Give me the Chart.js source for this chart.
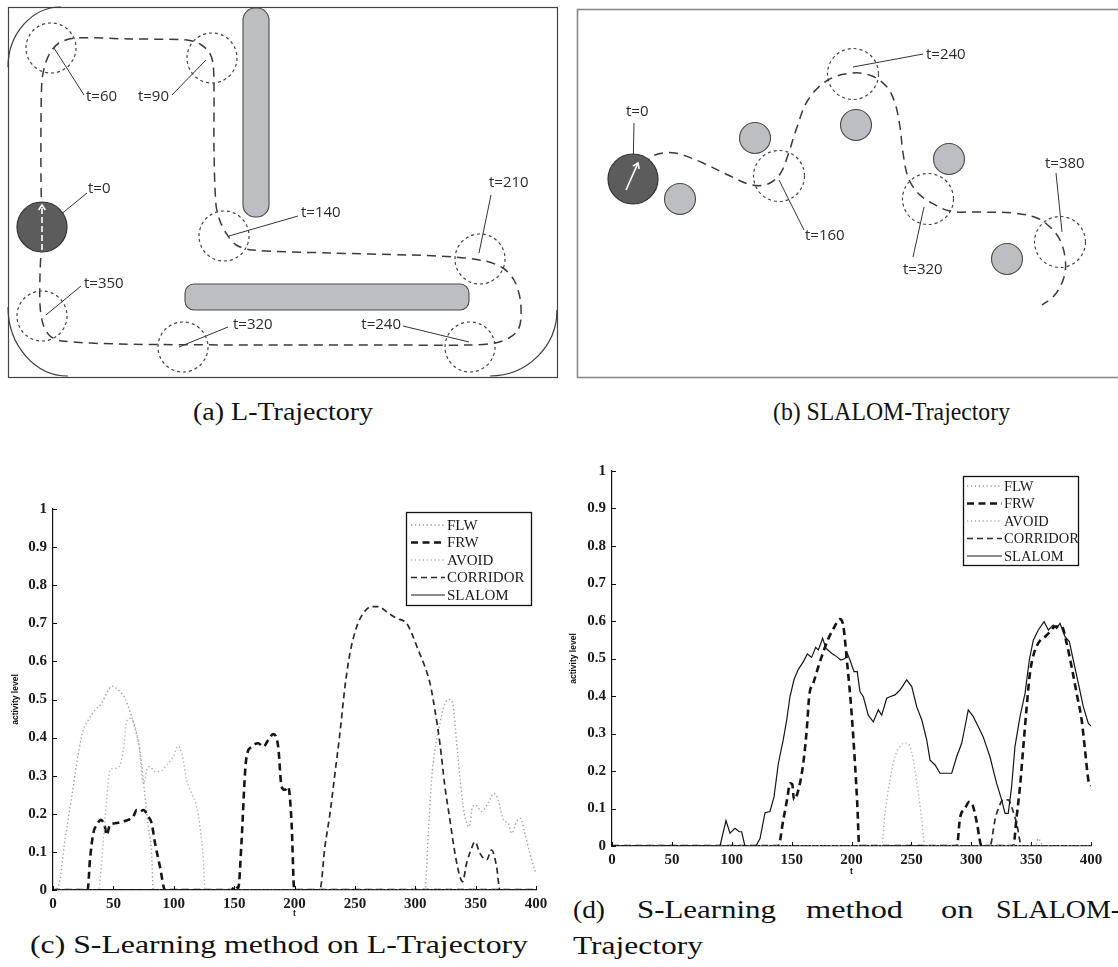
<!DOCTYPE html>
<html>
<head>
<meta charset="utf-8">
<script src="https://cdn.jsdelivr.net/npm/chart.js@4.4.1/dist/chart.umd.min.js"></script>
<style>
  html, body { margin: 0; padding: 0; background: #fff; }
  body { width: 1118px; height: 967px; position: relative; overflow: hidden; }
  canvas { position: absolute; }
  .cap { position: absolute; white-space: nowrap; font-family: "Liberation Serif", "Times New Roman", serif;
         font-size: 25px; line-height: 25px; color: #111; transform-origin: 0 0; }
</style>
</head>
<body>
<canvas id="panelA" width="560" height="390" style="left:0;top:0"></canvas>
<canvas id="panelB" width="558" height="390" style="left:560px;top:0"></canvas>
<canvas id="panelC" width="560" height="440" style="left:0;top:490px"></canvas>
<canvas id="panelD" width="558" height="436" style="left:560px;top:450px"></canvas>

<span class="cap" data-w="180" style="left:193px;top:399px">(a) L-Trajectory</span>
<span class="cap" data-w="237" style="left:773px;top:399px">(b) SLALOM-Trajectory</span>
<span class="cap" data-w="498" style="left:30px;top:932px">(c) S-Learning method on L-Trajectory</span>
<span class="cap" data-w="32" style="left:573px;top:897px">(d)</span>
<span class="cap" data-w="139" style="left:637px;top:897px">S-Learning</span>
<span class="cap" data-w="97" style="left:806px;top:897px">method</span>
<span class="cap" data-w="0" style="left:941px;top:897px">on</span>
<span class="cap" data-w="124" style="left:996px;top:897px">SLALOM-</span>
<span class="cap" data-w="130" style="left:573px;top:933px">Trajectory</span>

<script>
// ---------- Panel (a): L-shaped arena (arena pixel units) ----------
const lFrame = [8, 7, 557, 377];
const lCornerCX = [61, 68, 490];
const lCornerCY = [67, 307, 310];
const lCornerRX = [53, 60, 67];
const lCornerRY = [60, 69, 66];
const lCornerFrom = [180, 90, 0];
const lCornerTo = [270, 180, 90];
const lWallX0 = [243, 185];
const lWallY0 = [8, 284];
const lWallX1 = [269, 469];
const lWallY1 = [217, 310];
const lWallRadius = [12, 9];
const lRobotX = [42];
const lRobotY = [227];
const lArrow = [42, 250, 42, 205];
const lPathX = [42, 41, 41, 42, 45, 50, 59, 75, 130, 187, 200, 209, 213, 214, 214, 216, 220, 226, 236, 252, 330, 410, 455, 485, 503, 514, 520, 521, 518, 509, 495, 470, 380, 250, 120, 62, 50, 43, 40, 40, 41];
const lPathY = [227, 180, 120, 80, 65, 53, 43, 38, 39, 40, 44, 52, 63, 90, 150, 205, 221, 233, 245, 250, 253, 255, 257, 261, 268, 280, 298, 318, 330, 338, 343, 345, 345, 345, 344, 341, 336, 324, 305, 275, 252];
const lMarkX = [51, 212, 224, 480, 42, 183, 470];
const lMarkY = [48, 58, 236, 259, 316, 347, 347];
const lLabels = ['t=0', 't=60', 't=90', 't=140', 't=210', 't=350', 't=320', 't=240'];
const lLeadX0 = [54, 54, 206, 229, 479, 46, 179, 469];
const lLeadY0 = [220, 48, 60, 236, 253, 315, 347, 342];
const lLeadX1 = [87, 84, 172, 298, 491, 81, 228, 403];
const lLeadY1 = [193, 95, 95, 216, 195, 286, 327, 326];
const lLabelX = [88, 86, 169, 301, 489, 84, 233, 401];
const lLabelY = [189, 97, 97, 213, 183, 284, 325, 325];
const lLabelAlign = ['left', 'left', 'right', 'left', 'left', 'left', 'left', 'right'];

// ---------- Panel (b): slalom arena ----------
const sFrame = [577, 9, 1135, 377];
const sRobotX = [633];
const sRobotY = [179];
const sArrow = [626, 190, 638, 163];
const sPostX = [680, 755, 856, 949, 1007];
const sPostY = [199, 138, 125, 159, 259];
const sPathX = [643, 655, 675, 703, 728, 752, 768, 780, 788, 796, 808, 828, 853, 872, 887, 895, 900, 903, 908, 917, 930, 950, 980, 1013, 1037, 1050, 1060, 1065, 1065, 1060, 1053, 1042];
const sPathY = [165, 155, 153, 163, 175, 185, 184, 174, 155, 130, 100, 80, 73, 76, 87, 103, 127, 153, 177, 192, 202, 211, 212, 213, 218, 227, 240, 257, 273, 287, 297, 305];
const sMarkX = [779, 853, 928, 1060];
const sMarkY = [176, 74, 199, 242];
const sLabels = ['t=0', 't=160', 't=240', 't=320', 't=380'];
const sLeadX0 = [633, 779, 853, 924, 1062];
const sLeadY0 = [173, 180, 67, 207, 232];
const sLeadX1 = [634, 804, 923, 913, 1056];
const sLeadY1 = [123, 230, 54, 257, 173];
const sLabelX = [626, 805, 926, 903, 1045];
const sLabelY = [112, 236, 55, 270, 164];

// ---------- Panel (c): activity levels, L-trajectory ----------
const tickX = [0, 50, 100, 150, 200, 250, 300, 350, 400];
const seriesNames = ['FLW', 'FRW', 'AVOID', 'CORRIDOR', 'SLALOM'];

const cFlwT = [0, 4.4, 9.9, 15.5, 21, 25.1, 29.2, 34.8, 40.3, 44.4, 48.6, 52.7, 59.6, 63.8, 67.9, 72, 74.8, 76.2, 78.9, 81.7, 83, 308, 310.8, 313.5, 316.3, 320.4, 324.6, 328.2, 331.5, 334.3, 338.4, 341.1, 344.7, 347.5, 350.2, 355, 360.4, 365.1, 368.7, 372.9, 377, 379.8, 383.9, 387.2, 390.8, 394.9, 399, 400];
const cFlwV = [0, 0.009, 0.131, 0.245, 0.359, 0.42, 0.446, 0.472, 0.49, 0.516, 0.535, 0.529, 0.503, 0.468, 0.424, 0.367, 0.289, 0.245, 0.166, 0.096, 0, 0, 0.149, 0.289, 0.367, 0.437, 0.49, 0.5, 0.481, 0.385, 0.254, 0.192, 0.166, 0.219, 0.223, 0.206, 0.228, 0.254, 0.236, 0.184, 0.175, 0.149, 0.179, 0.188, 0.149, 0.096, 0.052, 0.045];
const cFrwT = [0, 28.7, 30.6, 33.4, 36.2, 39.7, 43, 44.4, 47.2, 51.3, 58.2, 62.3, 66.5, 69.3, 72, 74.8, 78.9, 81.7, 84.5, 88.6, 92.8, 147.9, 150.6, 153.4, 156.2, 159, 160.3, 164.5, 170, 174.1, 178.3, 182.4, 186.5, 189.3, 192.1, 194.8, 197.6, 199.8, 400];
const cFrwV = [0, 0, 0.079, 0.149, 0.171, 0.184, 0.166, 0.144, 0.171, 0.175, 0.18, 0.184, 0.193, 0.21, 0.206, 0.21, 0.193, 0.175, 0.123, 0.061, 0, 0, 0.012, 0.005, 0.131, 0.306, 0.35, 0.376, 0.385, 0.376, 0.394, 0.409, 0.376, 0.271, 0.263, 0.271, 0.175, 0, 0];
const cAvoidT = [0, 37.5, 41.7, 44.4, 47.2, 51.3, 55.5, 58.2, 61, 63.8, 66.5, 69.3, 72, 73.9, 75.4, 77.6, 80.3, 84.5, 88.6, 94.1, 99.6, 103.8, 106.6, 110.7, 114.8, 119, 121.7, 124.5, 126, 400];
const cAvoidV = [0, 0, 0.131, 0.236, 0.315, 0.319, 0.328, 0.367, 0.442, 0.45, 0.442, 0.411, 0.359, 0.289, 0.28, 0.315, 0.324, 0.311, 0.311, 0.328, 0.35, 0.378, 0.359, 0.289, 0.254, 0.219, 0.166, 0.079, 0, 0];
const cCorridorT = [0, 221, 225.2, 229.4, 233.5, 237.6, 241.8, 245.9, 251.5, 256.9, 263.9, 269.4, 276.3, 284.6, 292.9, 297, 302.5, 308, 312.2, 316.3, 320.4, 324.6, 328.7, 332.9, 337, 339.2, 342.5, 346.6, 349.4, 353.6, 359.1, 363.2, 367.4, 370.1, 400];
const cCorridorV = [0, 0, 0.114, 0.201, 0.306, 0.411, 0.534, 0.621, 0.691, 0.726, 0.744, 0.744, 0.73, 0.713, 0.7, 0.674, 0.63, 0.586, 0.543, 0.472, 0.385, 0.271, 0.184, 0.096, 0.035, 0.022, 0.07, 0.109, 0.127, 0.096, 0.079, 0.105, 0.061, 0, 0];
const cSlalomT = [0, 400];
const cSlalomV = [0, 0];

// ---------- Panel (d): activity levels, slalom trajectory ----------
const dFlwT = [0, 353.3, 356, 360.1, 400];
const dFlwV = [0, 0, 0.02, 0, 0];
const dFrwT = [0, 138.9, 143, 146.4, 148.6, 150.5, 152, 155.6, 159.7, 162.6, 164.8, 168.1, 172.3, 175.1, 180.3, 185, 190.4, 193, 196, 200.1, 202.9, 204.8, 206.5, 288, 290.6, 294.8, 298.4, 301.2, 304.5, 308.7, 335.1, 337.9, 340.7, 343.5, 346.3, 349, 352.4, 356.8, 361.6, 365.7, 369.9, 375.5, 379.7, 383.8, 388, 392.2, 395, 397.8, 400];
const dFrwV = [0, 0, 0.069, 0.127, 0.167, 0.165, 0.123, 0.149, 0.22, 0.309, 0.403, 0.434, 0.478, 0.505, 0.55, 0.58, 0.605, 0.59, 0.5, 0.354, 0.22, 0.114, 0, 0, 0.074, 0.1, 0.118, 0.109, 0.065, 0, 0, 0.078, 0.158, 0.265, 0.371, 0.46, 0.514, 0.545, 0.558, 0.571, 0.585, 0.585, 0.54, 0.478, 0.407, 0.336, 0.256, 0.176, 0.16];
const dAvoidT = [0, 225.2, 228, 232.1, 236.3, 240.5, 244.7, 248.9, 251.6, 255.8, 258.7, 261.4, 400];
const dAvoidV = [0, 0, 0.087, 0.176, 0.238, 0.265, 0.275, 0.265, 0.229, 0.141, 0.069, 0, 0];
const dCorridorT = [0, 315.6, 319.8, 322.6, 326.8, 330.9, 334.6, 337.9, 342.1, 400];
const dCorridorV = [0, 0, 0.069, 0.1, 0.123, 0.123, 0.096, 0.06, 0, 0];
const dSlalomT = [0, 90.2, 95.2, 98.5, 102.7, 106.3, 108.3, 111, 120.2, 123.6, 127.8, 131.9, 135.3, 138.9, 143, 145.9, 148.6, 152, 155.6, 159.7, 163.1, 166.7, 170.1, 172.3, 175.9, 178.7, 183.4, 187.6, 191, 194.6, 196.5, 198.7, 202.1, 204.8, 207.1, 209.9, 214, 218.2, 222.4, 225.2, 229.4, 232.1, 236.3, 240.5, 246.1, 250.3, 254.5, 258.7, 262.8, 265.6, 269.8, 273.9, 279.5, 283.7, 287.8, 292, 294.8, 297.5, 301.7, 305.9, 310, 315.6, 321.2, 325.4, 328.2, 330.9, 333.7, 336.5, 340.7, 344.9, 348.5, 351.8, 356, 360.8, 364.4, 368.5, 371.3, 374.1, 378.3, 381.9, 385.2, 389.4, 393.6, 397.8, 400];
const dSlalomV = [0, 0, 0.068, 0.034, 0.047, 0.038, 0.038, 0, 0, 0.02, 0.089, 0.092, 0.131, 0.22, 0.283, 0.336, 0.398, 0.444, 0.471, 0.491, 0.512, 0.503, 0.53, 0.523, 0.554, 0.527, 0.514, 0.505, 0.496, 0.5, 0.514, 0.496, 0.465, 0.465, 0.411, 0.398, 0.349, 0.331, 0.363, 0.349, 0.394, 0.398, 0.403, 0.416, 0.443, 0.425, 0.371, 0.336, 0.283, 0.229, 0.216, 0.194, 0.194, 0.194, 0.238, 0.274, 0.318, 0.363, 0.345, 0.318, 0.291, 0.238, 0.167, 0.123, 0.087, 0.087, 0.158, 0.265, 0.345, 0.407, 0.496, 0.549, 0.576, 0.598, 0.576, 0.589, 0.58, 0.594, 0.558, 0.545, 0.496, 0.434, 0.371, 0.327, 0.32];

// ---------- shared helpers ----------
const SERIF = '"Liberation Serif", "Times New Roman", serif';
const SANS = '"Open Sans", "Noto Sans", sans-serif';
const zip = (xs, ys) => xs.map((x, i) => ({ x: x, y: ys[i] }));

function arrowHead(ctx, x0, y0, x1, y1, len) {
  const a = Math.atan2(y1 - y0, x1 - x0);
  ctx.beginPath();
  ctx.moveTo(x1 - len * Math.cos(a - 0.6), y1 - len * Math.sin(a - 0.6));
  ctx.lineTo(x1, y1);
  ctx.lineTo(x1 - len * Math.cos(a + 0.6), y1 - len * Math.sin(a + 0.6));
  ctx.stroke();
}

// Decorations for the arena panels: walls, bar obstacles, robot heading arrow and time labels.
function arenaPlugin(spec) {
  return {
    id: 'arena',
    beforeDatasetsDraw(chart) {
      const { ctx, scales: { x, y } } = chart;
      const X = v => x.getPixelForValue(v), Y = v => y.getPixelForValue(v);
      ctx.save();
      const f = spec.frame;
      ctx.strokeStyle = spec.frameColor;
      ctx.lineWidth = spec.frameWidth;
      ctx.strokeRect(X(f[0]) + 0.5, Y(f[1]) + 0.5, X(f[2]) - X(f[0]), Y(f[3]) - Y(f[1]));
      ctx.strokeStyle = '#3a3a3a';
      ctx.lineWidth = 1.2;
      (spec.cornerCX || []).forEach((cx, i) => {
        const px = X(cx), py = Y(spec.cornerCY[i]);
        const rx = Math.abs(X(cx + spec.cornerRX[i]) - px);
        const ry = Math.abs(Y(spec.cornerCY[i] + spec.cornerRY[i]) - py);
        ctx.beginPath();
        ctx.ellipse(px, py, rx, ry, 0, spec.cornerFrom[i] * Math.PI / 180, spec.cornerTo[i] * Math.PI / 180);
        ctx.stroke();
      });
      (spec.wallX0 || []).forEach((x0, i) => {
        const l = X(x0), t = Y(spec.wallY0[i]), r = X(spec.wallX1[i]), b = Y(spec.wallY1[i]);
        ctx.beginPath();
        ctx.roundRect(l, t, r - l, b - t, spec.wallRadius[i]);
        ctx.fillStyle = '#bdbec1';
        ctx.fill();
        ctx.strokeStyle = '#4a4a4a';
        ctx.lineWidth = 1.1;
        ctx.stroke();
      });
      ctx.restore();
    },
    beforeDatasetDraw(chart, args) {
      const ds = chart.data.datasets[args.index];
      if (ds.pointDash) { chart.ctx.save(); chart.ctx.setLineDash(ds.pointDash); }
    },
    afterDatasetDraw(chart, args) {
      const ds = chart.data.datasets[args.index];
      if (ds.pointDash) chart.ctx.restore();
    },
    afterDatasetsDraw(chart) {
      const { ctx, scales: { x, y } } = chart;
      const X = v => x.getPixelForValue(v), Y = v => y.getPixelForValue(v);
      ctx.save();
      // heading arrow on the robot
      const a = spec.arrow;
      ctx.strokeStyle = '#ffffff';
      ctx.lineWidth = 1.6;
      ctx.setLineDash(spec.arrowDash);
      ctx.beginPath();
      ctx.moveTo(X(a[0]), Y(a[1]));
      ctx.lineTo(X(a[2]), Y(a[3]));
      ctx.stroke();
      ctx.setLineDash([]);
      arrowHead(ctx, X(a[0]), Y(a[1]), X(a[2]), Y(a[3]), 6);
      // time labels
      ctx.fillStyle = '#2b2b2b';
      ctx.font = '15px ' + SANS;
      ctx.textBaseline = 'middle';
      spec.labels.forEach((txt, i) => {
        ctx.textAlign = spec.labelAlign ? spec.labelAlign[i] : 'left';
        ctx.fillText(txt, X(spec.labelX[i]), Y(spec.labelY[i]));
      });
      ctx.restore();
    }
  };
}

function leaderSets(x0, y0, x1, y1) {
  return x0.map((v, i) => ({
    type: 'scatter', showLine: true,
    data: [{ x: v, y: y0[i] }, { x: x1[i], y: y1[i] }],
    borderColor: '#333', borderWidth: 1, pointRadius: 0
  }));
}

function arenaChart(id, xMin, xMax, spec, datasets) {
  return new Chart(document.getElementById(id), {
    type: 'scatter',
    data: { datasets: datasets },
    options: {
      responsive: false, animation: false, devicePixelRatio: 1,
      layout: { padding: 0, autoPadding: false },
      plugins: { legend: { display: false }, tooltip: { enabled: false } },
      scales: {
        x: { type: 'linear', min: xMin, max: xMax, display: false },
        y: { type: 'linear', min: 0, max: 390, reverse: true, display: false }
      }
    },
    plugins: [arenaPlugin(spec)]
  });
}

// Panel (a)
arenaChart('panelA', 0, 560, {
  frame: lFrame, frameColor: '#444', frameWidth: 1.2,
  cornerCX: lCornerCX, cornerCY: lCornerCY, cornerRX: lCornerRX, cornerRY: lCornerRY,
  cornerFrom: lCornerFrom, cornerTo: lCornerTo,
  wallX0: lWallX0, wallY0: lWallY0, wallX1: lWallX1, wallY1: lWallY1, wallRadius: lWallRadius,
  arrow: lArrow, arrowDash: [6, 3],
  labels: lLabels, labelX: lLabelX, labelY: lLabelY, labelAlign: lLabelAlign
}, [
  { data: zip(lRobotX, lRobotY), pointRadius: 25, pointBackgroundColor: '#5c5c5c', pointBorderColor: '#333', pointBorderWidth: 1.2 },
  { data: zip(lMarkX, lMarkY), pointRadius: 25, pointBackgroundColor: 'rgba(0,0,0,0)', pointBorderColor: '#444', pointBorderWidth: 1.2, pointDash: [3, 3] },
  ...leaderSets(lLeadX0, lLeadY0, lLeadX1, lLeadY1),
  { data: zip(lPathX, lPathY), showLine: true, tension: 0.3, borderColor: '#3a3a3a', borderWidth: 1.5, borderDash: [9, 6], pointRadius: 0 }
]);

// Panel (b)
arenaChart('panelB', 560, 1118, {
  frame: sFrame, frameColor: '#8a8a8a', frameWidth: 1.6,
  arrow: sArrow, arrowDash: [],
  labels: sLabels, labelX: sLabelX, labelY: sLabelY
}, [
  { data: zip(sRobotX, sRobotY), pointRadius: 25, pointBackgroundColor: '#5c5c5c', pointBorderColor: '#333', pointBorderWidth: 1.2 },
  { data: zip(sPostX, sPostY), pointRadius: 15.5, pointBackgroundColor: '#bdbec1', pointBorderColor: '#4a4a4a', pointBorderWidth: 1.1 },
  { data: zip(sMarkX, sMarkY), pointRadius: 25.5, pointBackgroundColor: 'rgba(0,0,0,0)', pointBorderColor: '#444', pointBorderWidth: 1.2, pointDash: [3, 3] },
  ...leaderSets(sLeadX0, sLeadY0, sLeadX1, sLeadY1),
  { data: zip(sPathX, sPathY), showLine: true, tension: 0.35, borderColor: '#3a3a3a', borderWidth: 1.5, borderDash: [9, 6], pointRadius: 0 }
]);

// ---------- activity-level charts ----------
const lineStyles = {
  FLW:      { borderColor: '#9c9c9c', borderWidth: 1.4, borderDash: [1.3, 2.6], cubicInterpolationMode: 'monotone' },
  FRW:      { borderColor: '#151515', borderWidth: 2.6, borderDash: [7, 4.5], cubicInterpolationMode: 'monotone' },
  AVOID:    { borderColor: '#b0b0b0', borderWidth: 1.4, borderDash: [1.3, 2.6], cubicInterpolationMode: 'monotone' },
  CORRIDOR: { borderColor: '#2a2a2a', borderWidth: 1.7, borderDash: [6, 4], cubicInterpolationMode: 'monotone' },
  SLALOM:   { borderColor: '#151515', borderWidth: 1.2, borderDash: [], tension: 0 }
};

function axisPlugin(lg) {
  return {
    id: 'axisDecor',
    afterDraw(chart) {
      const { ctx, chartArea: a, scales: { x, y } } = chart;
      ctx.save();
      ctx.strokeStyle = '#111';
      ctx.lineWidth = 1;
      ctx.beginPath();
      y.ticks.forEach(t => {
        const yy = Math.round(y.getPixelForValue(t.value)) + 0.5;
        ctx.moveTo(a.left, yy); ctx.lineTo(a.left + 4, yy);
      });
      x.ticks.forEach(t => {
        const xx = Math.round(x.getPixelForValue(t.value)) + 0.5;
        ctx.moveTo(xx, a.bottom); ctx.lineTo(xx, a.bottom - 4);
      });
      ctx.stroke();
      // axis titles
      ctx.fillStyle = '#111';
      ctx.font = 'bold 8.5px "Liberation Sans", Arial, sans-serif';
      ctx.textAlign = 'center';
      ctx.textBaseline = 'middle';
      ctx.fillText('t', (a.left + a.right) / 2, a.bottom + lg.tGap);
      ctx.translate(a.left - lg.yTitleGap, (a.top + a.bottom) / 2);
      ctx.rotate(-Math.PI / 2);
      ctx.fillText('activity level', 0, 0);
      ctx.restore();
      // legend box
      ctx.save();
      ctx.fillStyle = '#fff';
      ctx.fillRect(lg.left, lg.top, lg.right - lg.left, lg.bottom - lg.top);
      ctx.strokeStyle = '#111';
      ctx.lineWidth = 1.3;
      ctx.strokeRect(lg.left + 0.5, lg.top + 0.5, lg.right - lg.left, lg.bottom - lg.top);
      ctx.font = lg.fontSize + 'px ' + SERIF;
      ctx.textAlign = 'left';
      ctx.textBaseline = 'middle';
      chart.data.datasets.forEach((ds, i) => {
        const yy = lg.first + i * lg.step;
        ctx.strokeStyle = ds.borderColor;
        ctx.lineWidth = ds.borderWidth;
        ctx.setLineDash(ds.borderDash);
        ctx.beginPath();
        ctx.moveTo(lg.sample0, yy); ctx.lineTo(lg.sample1, yy);
        ctx.stroke();
        ctx.setLineDash([]);
        ctx.fillStyle = '#1a1a1a';
        ctx.fillText(ds.label, lg.text, yy + 1);
      });
      ctx.restore();
    }
  };
}

function activityChart(id, series, frame, lg) {
  const datasets = series.map((s, i) => Object.assign({
    label: seriesNames[i], data: zip(s[0], s[1]), pointRadius: 0, fill: false, order: 4 - i
  }, lineStyles[seriesNames[i]]));
  return new Chart(document.getElementById(id), {
    type: 'line',
    data: { datasets: datasets },
    options: {
      responsive: false, animation: false, devicePixelRatio: 1,
      layout: { padding: { top: frame.top, right: frame.right, left: 0, bottom: 0 }, autoPadding: false },
      plugins: { legend: { display: false }, tooltip: { enabled: false } },
      scales: {
        x: {
          type: 'linear', min: 0, max: 400,
          afterBuildTicks: s => { s.ticks = tickX.map(v => ({ value: v })); },
          afterFit: s => { s.height = frame.xAxisHeight; },
          grid: { display: false, drawTicks: false },
          border: { display: true, color: '#111', width: 1.2 },
          ticks: { padding: 5, color: '#1a1a1a', maxRotation: 0, font: { family: SERIF, size: 15, weight: 'bold' } }
        },
        y: {
          type: 'linear', min: 0, max: 1,
          ticks: { stepSize: 0.1, padding: 6, color: '#1a1a1a', font: { family: SERIF, size: 15, weight: 'bold' },
                   callback: v => String(Math.round(v * 10) / 10) },
          afterFit: s => { s.width = frame.yAxisWidth; },
          grid: { display: false, drawTicks: false },
          border: { display: true, color: '#111', width: 1.2 }
        }
      }
    },
    plugins: [axisPlugin(lg)]
  });
}

activityChart('panelC',
  [[cFlwT, cFlwV], [cFrwT, cFrwV], [cAvoidT, cAvoidV], [cCorridorT, cCorridorV], [cSlalomT, cSlalomV]],
  { top: 19, right: 24, yAxisWidth: 53, xAxisHeight: 40 },
  { left: 406, top: 22, right: 531, bottom: 115, first: 35, step: 17.5, sample0: 411, sample1: 445, text: 447, fontSize: 15, tGap: 24, yTitleGap: 37 });

activityChart('panelD',
  [[dFlwT, dFlwV], [dFrwT, dFrwV], [dAvoidT, dAvoidV], [dCorridorT, dCorridorV], [dSlalomT, dSlalomV]],
  { top: 21, right: 27, yAxisWidth: 52, xAxisHeight: 40 },
  { left: 403, top: 26, right: 518, bottom: 115, first: 36, step: 17.5, sample0: 407, sample1: 442, text: 444, fontSize: 14.5, tGap: 26, yTitleGap: 38 });

// Stretch each caption word to its set width, as the justified typeset captions do.
function fitCaptions() {
  let lastScale = 1;
  document.querySelectorAll('.cap').forEach(el => {
    el.style.transform = 'none';
    const target = parseFloat(el.dataset.w);
    const w = el.getBoundingClientRect().width;
    const k = target > 0 ? target / w : lastScale;
    lastScale = k;
    el.style.transform = 'scaleX(' + k.toFixed(4) + ')';
  });
}
fitCaptions();
if (document.fonts && document.fonts.ready) document.fonts.ready.then(fitCaptions);
</script>
</body>
</html>
